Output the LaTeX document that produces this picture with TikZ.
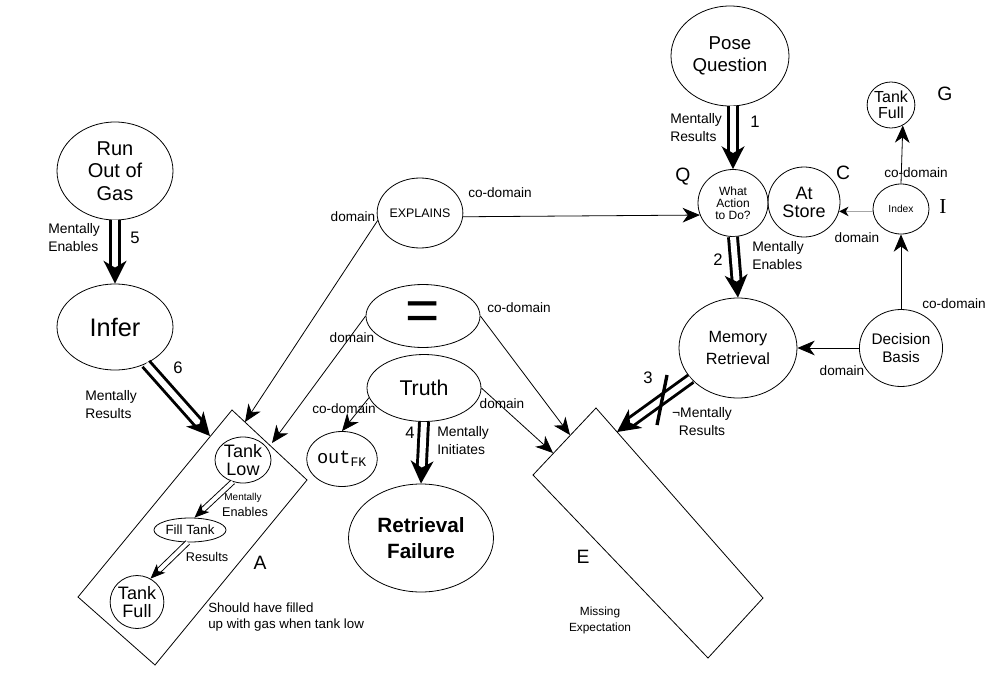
\documentclass[tikz,border=0pt]{standalone}
\usepackage{fontspec}
\setmainfont{Liberation Sans}
\newfontfamily\serifface{Liberation Serif}
\newfontfamily\monoface{Liberation Mono}
\usetikzlibrary{arrows.meta,shapes.geometric}
\newcommand\setfs[2]{\fontsize{#1}{#2}\selectfont}
\begin{document}
\begin{tikzpicture}[x=0.75pt,y=-0.75pt,
  ell/.style 2 args={ellipse,draw,line width=0.6pt,inner sep=0pt,
    minimum width=#1*0.75pt,minimum height=#2*0.75pt,align=center},
  lbl/.style={inner sep=0pt,font=\setfs{10.2}{12}},
  rel/.style={inner sep=0pt,align=left,font=\setfs{10.4}{13.5}},
  num/.style={inner sep=0pt,font=\setfs{12.5}{14}},
  tag/.style={inner sep=0pt,font=\setfs{14.5}{16}},
  conn/.style={line width=0.6pt,-{Stealth[length=13pt,width=11pt,inset=4pt]}},
  dbl/.style={double,line width=2.2pt,double distance=4.5pt,
    -{Stealth[length=17pt,width=17pt,inset=5pt]}},
  dbls/.style={double,line width=0.7pt,double distance=3pt,
    -{Stealth[length=11pt,width=9pt,inset=3pt]}},
  boxline/.style={line width=0.6pt},
]
\useasboundingbox (0,0) rectangle (985,685);

% rotated frames A and E
\coordinate (A1) at (232,410);
\coordinate (A2) at (307,480);
\coordinate (A3) at (155,665);
\coordinate (A4) at (78,597);
\draw[boxline] (A1) -- (A2) -- (A3) -- (A4) -- cycle;
\coordinate (E1) at (596,408);
\coordinate (E2) at (763,598);
\coordinate (E3) at (708,658);
\coordinate (E4) at (533,475);
\draw[boxline] (E1) -- (E2) -- (E3) -- (E4) -- cycle;

% entry points on the frames
\coordinate (a6) at (210,436);
\coordinate (aex) at (245,422);
\coordinate (aeq) at (272,443);
\coordinate (eeq) at (570,435);
\coordinate (etr) at (553,453);
\coordinate (emr) at (617,432);

% left chain
\node[ell={116}{98},font=\setfs{15}{17}] (rog) at (115,171) {Run\\Out of\\Gas};
\node[ell={116}{86},font=\setfs{19}{21}] (inf) at (115,327) {Infer};

% inside frame A
\node[ell={56}{46},font=\setfs{13.5}{14}] (tl) at (243,460) {Tank\\Low};
\node[ell={72}{24},font=\setfs{10}{12}] (ft) at (190,530) {Fill Tank};
\node[ell={53}{53},font=\setfs{13.5}{14}] (tf) at (137,602) {Tank\\Full};

% middle
\node[ell={75}{70},font=\setfs{9.3}{10}] (ex) at (420,213) {EXPLAINS};
\node[ell={114}{63},font=\setfs{44}{44}] (eq) at (423,316) {=};
\node[ell={114}{67},font=\setfs{16}{18}] (tr) at (424,388) {Truth};
\node[ell={58}{55},font=\setfs{14}{14}] (out) at (342,459) {\monoface out\textsubscript{FK}};
\node[ell={145}{108},font=\bfseries\setfs{15.5}{19}] (rf) at (421,538) {Retrieval\\Failure};

% right side
\node[ell={118}{100},font=\setfs{14}{16.5}] (pq) at (730,56) {Pose\\Question};
\node[ell={70}{67},font=\setfs{9}{9}] (wa) at (733,203) {What\\Action\\to Do?};
\node[ell={72}{70},font=\setfs{13.5}{13.5}] (ats) at (804,202) {At\\Store};
\node[ell={56}{50},font=\setfs{7.7}{8}] (idx) at (901,209) {Index};
\node[ell={38}{46},font=\setfs{12}{12}] (tfg) at (891,105) {Tank\\Full};
\node[ell={118}{100},font=\setfs{12.2}{16}] (mr) at (738,348) {Memory\\Retrieval};
\node[ell={80}{77},font=\setfs{11.5}{14}] (db) at (901,348) {Decision\\Basis};

% causal links
\draw[dbl] (rog.south) -- (inf.north);
\draw[dbl] (inf.-50) -- (a6);
\draw[dbl] (wa.north |- pq.south) -- (wa.north);
\draw[dbl] (wa.south) -- (mr.north);
\draw[dbl] (tr.south) -- (rf.north);
\draw[dbl] (mr.213) -- (emr);
\draw[dbls] (tl.-115) -- (ft.70);
\draw[dbls] (ft.-100) -- (tf.60);

% strike-through on link 3
\coordinate (x1) at (667,375);
\coordinate (x2) at (657,425);
\draw[line width=2.5pt] (x1) -- (x2);

% domain / co-domain links
\draw[conn] (ex.190) -- (aex);
\draw[conn] (ex.-5) -- (wa.-160);
\draw[conn] (eq.west) -- (aeq);
\draw[conn] (eq.east) -- (eeq);
\draw[conn] (tr.190) -- (out.north);
\draw[conn] (tr.east) -- (etr);
\draw[conn] (db.west) -- (mr.east);
\draw[conn] (db.north) -- (idx.south);
\draw[conn] (idx.north) -- (tfg.-60);
\draw[line width=1.1pt,gray!70,-{Stealth[black,length=7pt,width=7pt,inset=2pt]}]
  (idx.west) |- (ats.-15);

% link labels
\node[rel,anchor=west] (l5) at (48,238) {Mentally\\Enables};
\node[num] (n5) at (135,238) {5};
\node[num] (n6) at (178,368) {6};
\node[rel,anchor=west] (l6) at (85,405) {Mentally\\Results};
\node[rel,anchor=west] (l1) at (670,128) {Mentally\\Results};
\node[num] (n1) at (755,122) {1};
\node[rel,anchor=west] (l2) at (752,256) {Mentally\\Enables};
\node[num] (n2) at (718,260) {2};
\node[num] (n3) at (648,378) {3};
\node[rel,align=center] (l3) at (702,422) {¬Mentally\\Results};
\node[num] (n4) at (410,433) {4};
\node[rel,anchor=west] (l4) at (437,441) {Mentally\\Initiates};
\node[inner sep=0pt,font=\setfs{7.5}{9}] (la1) at (243,498) {Mentally};
\node[inner sep=0pt,font=\setfs{9.5}{11}] (la2) at (245,512) {Enables};
\node[inner sep=0pt,font=\setfs{9.5}{11}] (la3) at (207,557) {Results};

\node[lbl] (d1) at (353,217) {domain};
\node[lbl] (c1) at (500,193) {co-domain};
\node[lbl] (d2) at (352,338) {domain};
\node[lbl] (c2) at (519,308) {co-domain};
\node[lbl] (c3) at (344,409) {co-domain};
\node[lbl] (d3) at (502,404) {domain};
\node[lbl] (d4) at (857,238) {domain};
\node[lbl] (c4) at (916,173) {co-domain};
\node[lbl,anchor=west] (c5) at (922,304) {co-domain};
\node[lbl] (d5) at (842,371) {domain};

% frame and node tags
\node[tag] (tA) at (260,563) {A};
\node[tag] (tE) at (583,557) {E};
\node[tag] (tQ) at (683,177) {Q};
\node[tag] (tC) at (843,173) {C};
\node[tag] (tG) at (945,94) {G};
\node[inner sep=0pt,font=\serifface\setfs{16}{16}] (tI) at (943,207) {I};
\node[inner sep=0pt,anchor=west,align=left,font=\setfs{10}{11.5}] (noteA) at (208,617)
  {Should have filled\\up with gas when tank low};
\node[inner sep=0pt,align=center,font=\setfs{8.9}{12}] (noteE) at (600,620)
  {Missing\\Expectation};
\end{tikzpicture}
\end{document}
